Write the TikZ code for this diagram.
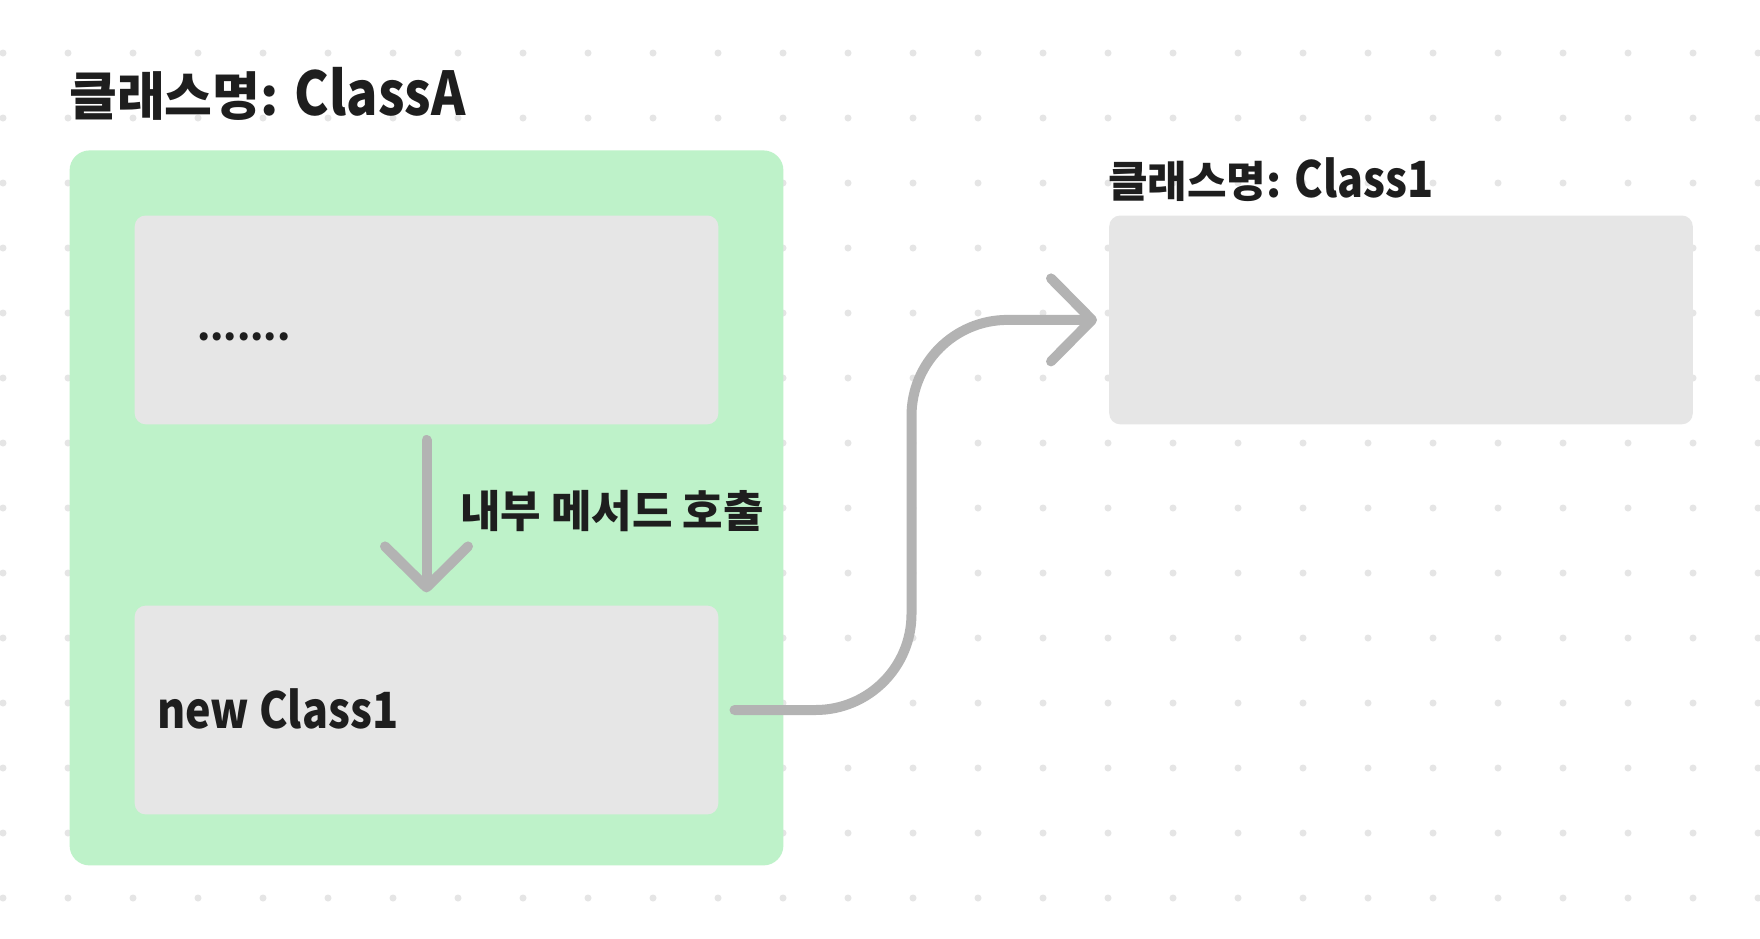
\documentclass[tikz,border=0pt]{standalone}
\usepackage{fontspec}
\usepackage{graphicx}
\setmainfont{Noto Sans CJK KR}
\usetikzlibrary{arrows.meta}
\definecolor{boxgreen}{RGB}{190,242,201}
\definecolor{boxgray}{RGB}{230,230,230}
\definecolor{conngray}{RGB}{179,179,179}
\definecolor{dotgray}{RGB}{229,229,229}
\definecolor{ink}{RGB}{30,30,30}
\newcommand\tallLat[1]{\scalebox{1}[1.16]{#1}}
\begin{document}
\begin{tikzpicture}[x=1pt,y=-1pt,
  greenbox/.style={fill=boxgreen, rounded corners=20pt, inner sep=0pt, draw=none},
  graybox/.style={fill=boxgray, rounded corners=11pt, inner sep=0pt, draw=none,
    minimum width=583.6pt, minimum height=208.8pt},
  txt/.style={inner sep=0pt, anchor=base west, text=ink, font=\bfseries\fontsize{#1}{#1}\selectfont},
  conn/.style={draw=conngray, line width=10pt, line cap=round, line join=round,
    -{Straight Barb[length=41pt, width=83pt, round]}}
]
\useasboundingbox (0,0) rectangle (1760,938);
\fill[white] (0,0) rectangle (1760,938);
% dot grid
\foreach \i in {0,...,27}{
  \foreach \j in {0,...,13}{
    \fill[dotgray] (3+65*\i, 53+65*\j) circle (3.5pt);
  }
}
% boxes
\node[greenbox, minimum width=713.8pt, minimum height=715pt] (outer) at (426.5,507.9) {};
\node[graybox] (top) at (426.5,319.9) {};
\node[graybox] (bot) at (426.5,710) {};
\node[graybox] (right) at (1401,319.9) {};
% texts
\node[txt=52] (titleA) at (69,115) {클래스명: \tallLat{ClassA}};
\node[txt=43] (title1) at (1108,197.5) {클래스명: \tallLat{Class1}};
\node[txt=38] (dots) at (197,340) {.......};
\node[txt=43] (newc) at (157,728.5) {\tallLat{new Class1}};
\node[txt=44] (lbl) at (460,527.5) {내부 메서드 호출};
% connectors
\draw[conn] ([yshift=-15.5pt]top.south) -- ([yshift=13pt]bot.north);
\coordinate (bendx) at (911.5,0);
\draw[conn, rounded corners=96pt] ([xshift=16pt]bot.east) -| (bendx |- right.west) -- ([xshift=-12pt]right.west);
\end{tikzpicture}
\end{document}
